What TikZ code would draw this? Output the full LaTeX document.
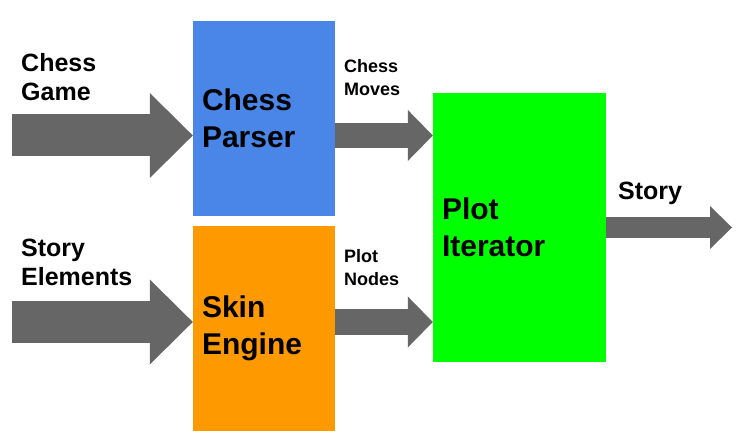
\documentclass[tikz,border=0pt]{standalone}
\usepackage{fontspec}
\setmainfont{Liberation Sans}
\usetikzlibrary{arrows.meta}
\definecolor{parserblue}{HTML}{4A86E8}
\definecolor{skinorange}{HTML}{FF9900}
\definecolor{plotgreen}{HTML}{00FF00}
\definecolor{arrowgray}{HTML}{666666}

\begin{document}
\begin{tikzpicture}[x=1pt,y=-1pt,
    box/.style={rectangle, inner xsep=9pt, inner ysep=0pt, align=left,
                font=\fontsize{30}{37}\selectfont\bfseries},
    biglabel/.style={anchor=north west, inner sep=0pt, align=left,
                font=\fontsize{25}{29}\selectfont\bfseries},
    smalllabel/.style={anchor=north west, inner sep=0pt, align=left,
                font=\fontsize{18}{23}\selectfont\bfseries},
    bigarrow/.style={draw=arrowgray, line width=42pt,
                -{Triangle[length=43pt,width=85pt,line width=0pt]}},
    midarrow/.style={draw=arrowgray, line width=25pt,
                -{Triangle[length=25pt,width=51pt,line width=0pt]}},
    smallarrow/.style={draw=arrowgray, line width=21pt,
                -{Triangle[length=22pt,width=43pt,line width=0pt]}}]

          \useasboundingbox (0,0) rectangle (741,443);

          \coordinate (game) at (12,135.5);
          \coordinate (elements) at (12,322);
          \coordinate (storyout) at (732,227.5);

          \node[box, fill=parserblue, text width=124pt, minimum height=195pt]
                (parser) at (264,118.5) {Chess\\Parser};
          \node[box, fill=skinorange, text width=124pt, minimum height=205pt]
                (skin) at (264,328.5) {Skin\\Engine};
          \node[box, fill=plotgreen, text width=155pt, minimum height=269pt]
                (plot) at (519.5,227.5) {Plot\\Iterator};

        \draw[bigarrow] (game) -- (parser.west |- game);
        \draw[bigarrow] (elements) -- (skin.west |- elements);
        \draw[midarrow] (parser.east |- game) -- (plot.west |- game);
        \draw[midarrow] (skin.east |- elements) -- (plot.west |- elements);
        \draw[smallarrow] (plot.east) -- (storyout);

        \node[biglabel] (gamelabel) at (21,53.5) {Chess\\Game};
        \node[biglabel] (elementslabel) at (21,238.5) {Story\\Elements};
        \node[smalllabel] (moveslabel) at (344,59) {Chess\\Moves};
        \node[smalllabel] (nodeslabel) at (344,249) {Plot\\Nodes};
        \node[anchor=base west, inner sep=0pt, font=\fontsize{25}{29}\selectfont\bfseries]
                (storylabel) at (618,200) {Story};
        % \node[smalllabel] at (618,182) {Story};
\end{tikzpicture}
\end{document}
